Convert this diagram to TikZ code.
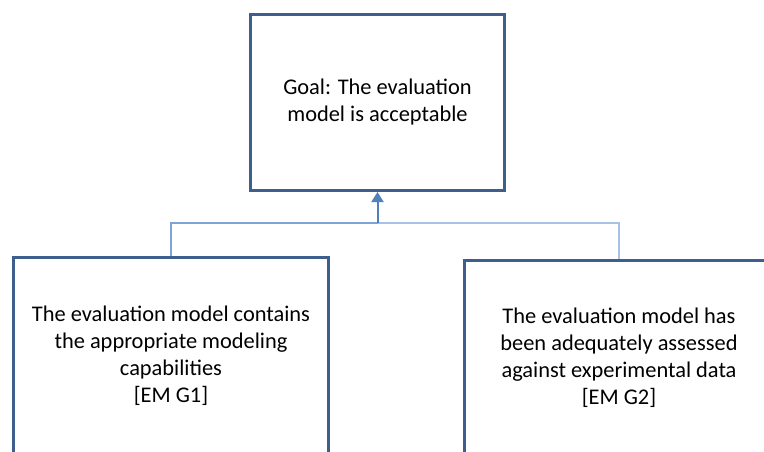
\documentclass[tikz,border=0pt]{standalone}
\usepackage{fontspec}
\setmainfont{Carlito}
\usepackage{tikz}
\usetikzlibrary{arrows.meta,calc,positioning}
\definecolor{boxblue}{HTML}{3E5F8E}
\definecolor{linkblue}{HTML}{4F81BD}
\definecolor{linkleft}{HTML}{7EA4D5}
\definecolor{linkright}{HTML}{A7C2E4}
\tikzset{
	goal tree/.style={
		x=1pt, y=-1pt,
		every node/.style={font=\fontsize{22.4}{27}\selectfont, align=center, text=black}},
	gbox/.style={draw=boxblue, line width=3pt, fill=white, inner sep=0pt},
	link/.style={line width=1.5pt},
	uplink/.style={draw=linkblue, line width=2pt, -{Triangle[width=12pt,length=10pt]}}
}
\begin{document}
\begin{tikzpicture}[goal tree]
   \useasboundingbox (0,0) rectangle (764,451);
   \clip (0,0) rectangle (764,451);
   \node[gbox, minimum width=254pt, minimum height=176pt] (goal) at (377.5,102.5)
      {Goal: The evaluation\\model is acceptable};
   \node[gbox, minimum width=315pt, minimum height=197pt] (capab) at (171,356)
      {The evaluation model contains\\the appropriate modeling\\capabilities\\{}[EM G1]};
   \node[gbox, minimum width=309pt, minimum height=194pt] (assess) at (619,357.5)
      {The evaluation model has\\been adequately assessed\\against experimental data\\{}[EM G2]};
   \coordinate (split) at ($(goal.south)+(0,31)$);
   \draw[link, linkleft] (capab.north) |- (split);
   \draw[link, linkright] (assess.north) |- (split);
   \draw[uplink] (split) -- (goal.south);
\end{tikzpicture}
\end{document}
